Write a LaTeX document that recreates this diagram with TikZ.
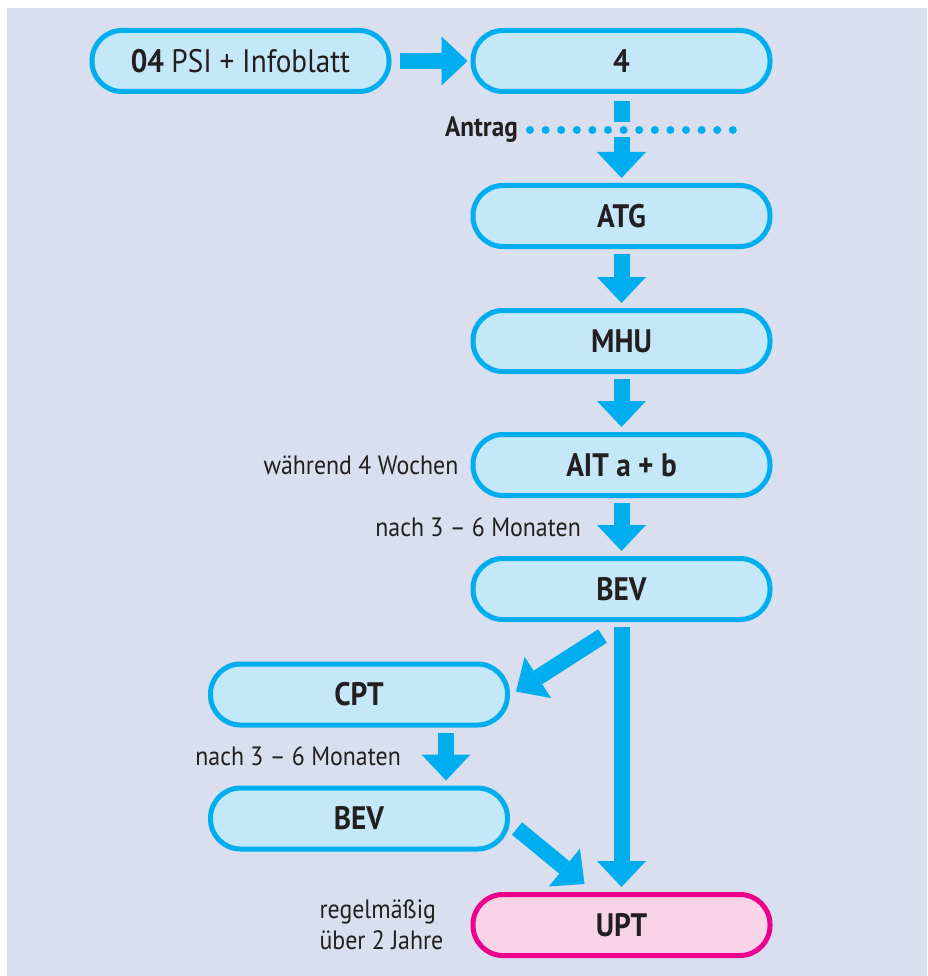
\documentclass[tikz,border=0pt]{standalone}
\usepackage{fontspec}
\setmainfont{PT Sans}[FakeStretch=0.9]
\usetikzlibrary{arrows.meta, positioning, calc}

\definecolor{bgblue}{HTML}{D9DFEE}
\definecolor{boxfill}{HTML}{C5E8F8}
\definecolor{cyanline}{HTML}{00AEEF}
\definecolor{pinkfill}{HTML}{F9D3E6}
\definecolor{magentaline}{HTML}{EC008C}
\definecolor{darktext}{HTML}{231F20}

\begin{document}
\begin{tikzpicture}[x=1pt, y=-1pt,
    stepbox/.style={draw=cyanline, fill=boxfill, line width=5pt, rounded corners=30pt,
      minimum width=297pt, minimum height=61pt, text=darktext,
      font=\fontsize{32.5}{38}\selectfont\bfseries},
    endbox/.style={stepbox, draw=magentaline, fill=pinkfill},
    lbl/.style={inner sep=0pt, text=darktext, font=\fontsize{26.5}{31}\selectfont},
    flow/.style={draw=cyanline, line width=16pt,
      -{Triangle[width=49pt, length=26pt, line width=0pt]},
      shorten <=5pt, shorten >=5pt},
    dotrow/.style={draw=cyanline, line width=8pt, line cap=round,
      dash pattern=on 0pt off 15.6pt}]

  % Background
  \fill[white] (0,0) rectangle (927,976);
  \fill[bgblue] (7,8) rectangle (927,976);

  % Nodes
  \node[stepbox] (four) at (621.5,61) {4};
  \node[stepbox, left=79pt of four] (psi) {\textbf{04} \textmd{PSI + Infoblatt}};
  \node[stepbox, below=89pt of four] (atg) {ATG};
  \node[stepbox, below=59pt of atg] (mhu) {MHU};
  \node[stepbox, below=58pt of mhu] (ait) {AIT a + b};
  \node[stepbox, below=58pt of ait] (bev) {BEV};
  \node[stepbox] (cpt) at (359,694.5) {CPT};
  \node[stepbox, below=58pt of cpt] (bevtwo) {BEV};
  \node[endbox, below=270pt of bev] (upt) {UPT};

  % Labels
  \node[lbl, font=\fontsize{28}{31}\selectfont\bfseries, anchor=east] (antrag) at (518,130) {Antrag};
  \coordinate (antragend) at (734,130);
  \node[lbl, left=12pt of ait] (during) {während 4 Wochen};
  \node[lbl, anchor=east] (waitone) at ($(ait.south)!0.5!(bev.north)+(-40.5,0)$) {nach 3 – 6 Monaten};
  \node[lbl, anchor=east] (waittwo) at ($(cpt.south)!0.5!(bevtwo.north)+(42,0)$) {nach 3 – 6 Monaten};
  \node[lbl, left=27pt of upt, align=left] (regular) {regelmäßig\\über 2 Jahre};

  % Arrows
  \draw[flow, shorten <=8pt, shorten >=3pt] (psi) -- (four);
  \draw[flow, shorten <=7pt] (four) -- (atg);
  \draw[draw=bgblue, line width=15pt] ([xshift=12pt]antrag.east) -- (antragend);
  \draw[dotrow] ([xshift=12pt]antrag.east) -- (antragend);
  \draw[flow] (atg) -- (mhu);
  \draw[flow] (mhu) -- (ait);
  \draw[flow] (ait) -- (bev);
  \draw[flow, shorten <=0pt, shorten >=0pt] ([xshift=-19pt,yshift=-14pt]bev.south) -- ([xshift=6pt,yshift=3pt]cpt.east);
  \draw[flow] (bev) -- (upt);
  \draw[flow] ([xshift=87pt]cpt.south) -- ([xshift=87pt]bevtwo.north);
  \draw[flow, shorten <=0pt, shorten >=0pt] ([xshift=7pt,yshift=-10pt]bevtwo.east) -- ([xshift=-37pt,yshift=8pt]upt.north);

\end{tikzpicture}
\end{document}
